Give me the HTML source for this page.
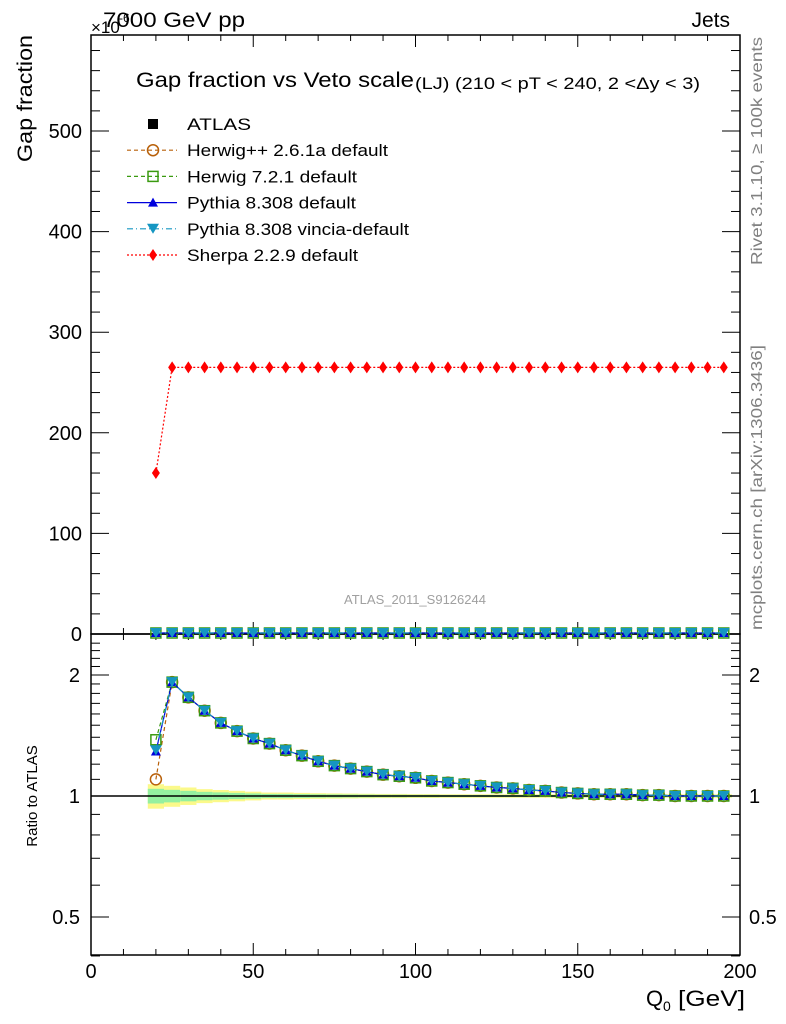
<!DOCTYPE html>
<html><head><meta charset="utf-8"><style>
body{margin:0;background:#fff}
svg{display:block;font-family:"Liberation Sans",sans-serif}
</style></head><body>
<svg id="c" width="786" height="1024" viewBox="0 0 786 1024"></svg>
<script>
const qValues=[20,25,30,35,40,45,50,55,60,65,70,75,80,85,90,95,100,105,110,115,120,125,130,135,140,145,150,155,160,165,170,175,180,185,190,195];
const sherpaValues=[160,265,265,265,265,265,265,265,265,265,265,265,265,265,265,265,265,265,265,265,265,265,265,265,265,265,265,265,265,265,265,265,265,265,265,265];
const mainMcValues=[1,1,1,1,1,1,1,1,1,1,1,1,1,1,1,1,1,1,1,1,1,1,1,1,1,1,1,1,1,1,1,1,1,1,1,1];
const ratioCommon=[1.35,1.92,1.76,1.63,1.52,1.45,1.39,1.35,1.30,1.26,1.22,1.19,1.17,1.15,1.13,1.12,1.11,1.09,1.08,1.07,1.06,1.05,1.045,1.035,1.03,1.02,1.015,1.01,1.01,1.01,1.005,1.005,1.0,1.0,1.0,1.0];
const herwigppFirst=1.10, herwig7First=1.38, pythiaFirst=1.29, vinciaFirst=1.30;
const bandYellow=[0.07,0.06,0.05,0.04,0.035,0.03,0.025,0.02,0.02,0.018,0.016,0.015,0.014,0.013,0.012,0.012,0.011,0.011,0.01,0.01,0.01,0.01,0.01,0.01,0.01,0.01,0.01,0.01,0.01,0.01,0.01,0.01,0.01,0.01,0.01,0.01];
const mainTicks=[0,100,200,300,400,500];
const ratioTicks=[0.5,1,2];
const xTicks=[0,50,100,150,200];

const svg=document.getElementById('c');
const NS='http://www.w3.org/2000/svg';
function mk(tag,attrs,parent){const e=document.createElementNS(NS,tag);for(const k in attrs)e.setAttribute(k,attrs[k]);(parent||svg).appendChild(e);return e;}
const L=91,R=740,T=35,M=634,B=955;
const X=v=>L+v*(R-L)/200;
const Y=v=>M-v*1.006;
const YR=v=>796-121*Math.log2(v);

const gB=mk('g',{});


qValues.forEach((q,i)=>{
  const x0=X(q-2.5),x1=X(q+2.5),e=bandYellow[i];
  mk('rect',{x:x0,y:YR(1+e),width:x1-x0,height:YR(1-e)-YR(1+e),fill:'#fbf98a'},gB);
  mk('rect',{x:x0,y:YR(1+e*0.6),width:x1-x0,height:YR(1-e*0.6)-YR(1+e*0.6),fill:'#95f0a0'},gB);
});
mk('line',{x1:L,x2:R,y1:YR(1),y2:YR(1),stroke:'#000','stroke-width':1.5});

const f1=mk('rect',{x:L,y:T,width:R-L,height:M-T,fill:'none',stroke:'#000','stroke-width':1.5});


const f2=mk('rect',{x:L,y:M,width:R-L,height:B-M,fill:'none',stroke:'#000','stroke-width':1.5});



for(let v=0;v<=200;v+=10){const big=v%50===0,l=big?12:6;
  mk('line',{x1:X(v),x2:X(v),y1:M,y2:M-l,stroke:'#000'});
  mk('line',{x1:X(v),x2:X(v),y1:M,y2:M+l,stroke:'#000'});
  mk('line',{x1:X(v),x2:X(v),y1:T,y2:T+l,stroke:'#000'});
  mk('line',{x1:X(v),x2:X(v),y1:B,y2:B-l,stroke:'#000'});}
xTicks.forEach(v=>{const t=mk('text',{x:X(v),y:978,'font-size':20,'text-anchor':'middle'});t.textContent=v;
  
  });
for(let v=0;v<=580;v+=20){const big=v%100===0,l=big?18:9;
  mk('line',{x1:L,x2:L+l,y1:Y(v),y2:Y(v),stroke:'#000'});
  mk('line',{x1:R,x2:R-l,y1:Y(v),y2:Y(v),stroke:'#000'});}
mainTicks.forEach(v=>{const t=mk('text',{x:82,y:Y(v)+7,'font-size':20,'text-anchor':'end'});t.textContent=v;
  
  });
for(let v=0.4;v<=2.5;v+=0.1){const r=Math.round(v*10)/10;const big=ratioTicks.includes(r),l=big?18:9;
  mk('line',{x1:L,x2:L+l,y1:YR(r),y2:YR(r),stroke:'#000'});
  mk('line',{x1:R,x2:R-l,y1:YR(r),y2:YR(r),stroke:'#000'});}
ratioTicks.forEach(v=>{let t=mk('text',{x:80,y:YR(v)+7,'font-size':20,'text-anchor':'end'});t.textContent=v;
  
  
  t=mk('text',{x:749,y:YR(v)+7,'font-size':20});t.textContent=v;
  
  });

function marker(kind,x,y,g){
  if(kind==='sq')mk('rect',{x:x-5,y:y-5,width:10,height:10,fill:'none',stroke:'#3a9a10','stroke-width':1.5},g);
  if(kind==='circ')mk('circle',{cx:x,cy:y,r:5.5,fill:'none',stroke:'#b8600a','stroke-width':1.5},g);
  if(kind==='up')mk('path',{d:`M${x-5},${y+4}L${x+5},${y+4}L${x},${y-5}Z`,fill:'#0000dd'},g);
  if(kind==='down')mk('path',{d:`M${x-6},${y-5}L${x+6},${y-5}L${x},${y+5}Z`,fill:'#1596c2'},g);
  if(kind==='dia')mk('path',{d:`M${x},${y-6}L${x+4},${y}L${x},${y+6}L${x-4},${y}Z`,fill:'#ff0000'},g);
}
function series(name,vals,yf,kind,color,dash){
  const g=mk('g',{});
  
  
  mk('polyline',{points:qValues.map((q,i)=>X(q)+','+yf(vals[i])).join(' '),fill:'none',stroke:color,'stroke-width':1.2,'stroke-dasharray':dash},g);
  qValues.forEach((q,i)=>marker(kind,X(q),yf(vals[i]),g));
}
const withFirst=f=>ratioCommon.map((v,i)=>i===0?f:v);
series('herwigpp-ratio',withFirst(herwigppFirst),YR,'circ','#b8600a','4,3');
series('herwig7-ratio',withFirst(herwig7First),YR,'sq','#3a9a10','4,3');
series('pythia-ratio',withFirst(pythiaFirst),YR,'up','#0000dd','');
series('vincia-ratio',withFirst(vinciaFirst),YR,'down','#1596c2','6,3,1,3');
series('herwig7-main',mainMcValues,Y,'sq','#3a9a10','4,3');
series('pythia-main',mainMcValues,Y,'up','#0000dd','');
series('vincia-main',mainMcValues,Y,'down','#1596c2','6,3,1,3');
series('sherpa-main',sherpaValues,Y,'dia','#ff0000','2,2');

const leg=[['ATLAS','atlas',null,null,64],['Herwig++ 2.6.1a default','circ','#b8600a','4,3',201],['Herwig 7.2.1 default','sq','#3a9a10','4,3',170],['Pythia 8.308 default','up','#0000dd','',169],['Pythia 8.308 vincia-default','down','#1596c2','6,3,1,3',222],['Sherpa 2.2.9 default','dia','#ff0000','2,2',171]];
leg.forEach((e,i)=>{const y=124+i*26.2;const g=mk('g',{});
  
  
  if(e[1]==='atlas')mk('rect',{x:148,y:y-5,width:10,height:10,fill:'#000'},g);
  else{mk('line',{x1:127,x2:177,y1:y,y2:y,stroke:e[2],'stroke-width':1.2,'stroke-dasharray':e[3]},g);marker(e[1],153,y,g);}
  const t=mk('text',{x:187,y:y+6,'font-size':17,textLength:e[4],lengthAdjust:'spacingAndGlyphs'},g);t.textContent=e[0];});

function txt(s,a,name){const t=mk('text',a);t.textContent=s;
  
  return t;}
txt('Gap fraction vs Veto scale',{x:136,y:87,'font-size':21,textLength:278,lengthAdjust:'spacingAndGlyphs'},'plot-title');
txt('(LJ) (210 < pT < 240, 2 <Δy < 3)',{x:415,y:89,'font-size':17,textLength:285,lengthAdjust:'spacingAndGlyphs'},'plot-subtitle');
txt('7000 GeV pp',{x:103,y:27,'font-size':21,textLength:142,lengthAdjust:'spacingAndGlyphs'},'beam-label');
txt('×10',{x:91,y:33,'font-size':17},'y-scale-multiplier');
txt('-6',{x:119,y:22,'font-size':12},'y-scale-exponent');
txt('Jets',{x:730,y:27,'font-size':21,'text-anchor':'end'},'process-label');
txt('Gap fraction',{x:0,y:0,'font-size':21,'text-anchor':'end',textLength:127,lengthAdjust:'spacingAndGlyphs',transform:'translate(32,35) rotate(-90)'},'y-axis-title');
txt('Ratio to ATLAS',{x:0,y:0,'font-size':15,'text-anchor':'middle',transform:'translate(37,796) rotate(-90)'},'ratio-axis-title');
txt('Q',{x:646,y:1006,'font-size':22},'x-axis-title');
txt('0',{x:663,y:1011,'font-size':14},'x-axis-subscript');
txt('[GeV]',{x:678,y:1006,'font-size':22,textLength:67,lengthAdjust:'spacingAndGlyphs'},'x-axis-unit');
txt('ATLAS_2011_S9126244',{x:415,y:604,'font-size':13,fill:'#a0a0a0','text-anchor':'middle'},'analysis-id');
txt('Rivet 3.1.10, ≥ 100k events',{x:0,y:0,'font-size':16,fill:'#808080','text-anchor':'end',textLength:228,lengthAdjust:'spacingAndGlyphs',transform:'translate(762,37) rotate(-90)'},'rivet-label');
txt('mcplots.cern.ch [arXiv:1306.3436]',{x:0,y:0,'font-size':16,fill:'#808080','text-anchor':'end',textLength:285,lengthAdjust:'spacingAndGlyphs',transform:'translate(762,345) rotate(-90)'},'mcplots-label');
</script>
</body></html>
